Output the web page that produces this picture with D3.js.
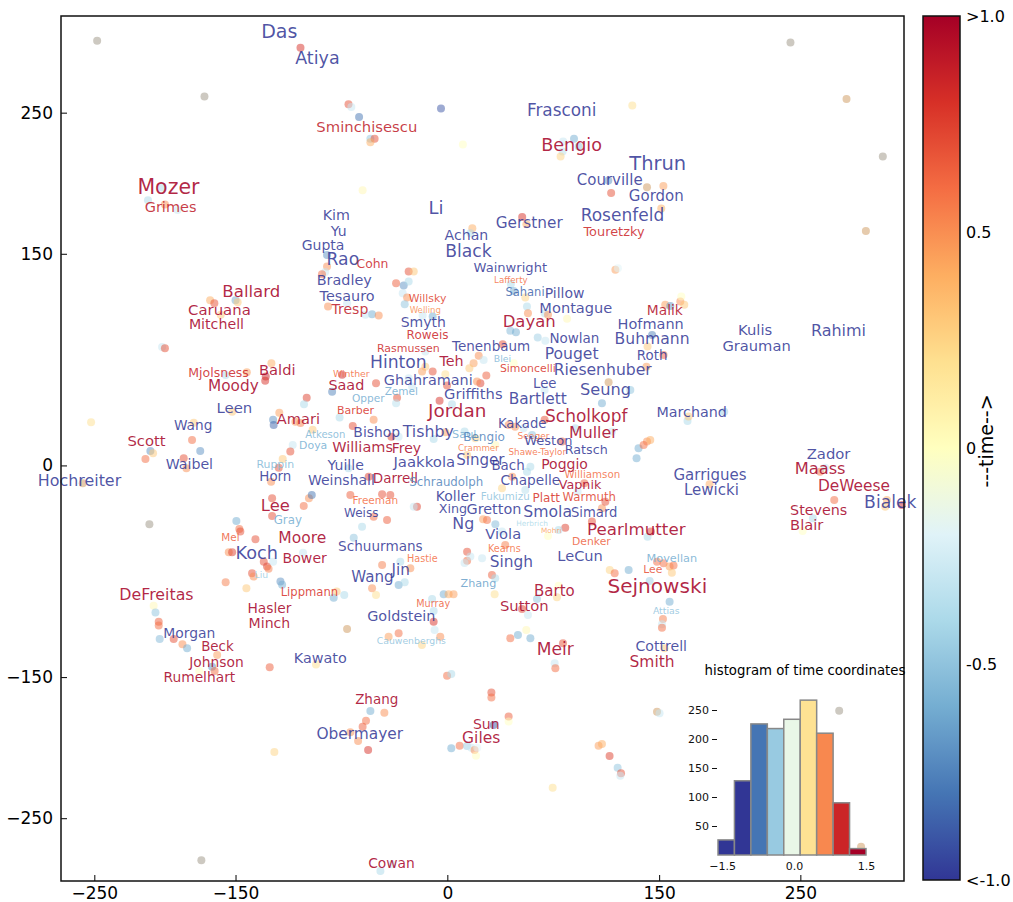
<!DOCTYPE html>
<html>
<head>
<meta charset="utf-8">
<script src="https://cdn.jsdelivr.net/npm/d3@7"></script>
<style>
  body { margin: 0; background: #fff; }
  svg { font-family: "DejaVu Sans", sans-serif; }
</style>
</head>
<body>
<svg id="chart" width="1013" height="902"></svg>
<script>
// author embedding: x, y are map coordinates, t is the time coordinate (-1 old .. 1 recent)
const points = [
  [-104,296,0.8],[-70,256,0.7],[-68,254,-0.3],[-202,197,-0.4],[-212,188,-0.4],[-200,185,0.5],[-191,181,-0.3],
  [-62.5,247,-0.8],[-4.5,253,-0.9],[-54.5,231.5,-0.5],[-51.5,231.5,0.7],[-54.5,229,0.4],[11,227.5,0.0],[-60,195,0.05],
  [82,229.5,-0.3],[89.7,231.5,-0.6],[81.6,222.5,-0.35],[80.2,219,0.25],[93,226,-0.5],[131,255,0.2],
  [114,202,-0.7],[116,193,0.7],[53,176,0.8],[56,171,0.4],[17.7,168,0.4],[16.3,164.6,-0.4],[153,198,0.45],[151.5,182,0.4],
  [-168,117,0.4],[-165,115,0.7],[-150,117,-0.6],[-148.5,115.7,0.3],[-160.5,106.7,0.3],[-202,84,-0.3],[-200,83,0.7],
  [-124.6,72.4,0.4],[-128.6,63,0.85],[-129,60,0.8],[-157,64,-0.4],[-142,66,0.45],[-152.4,38,0.3],
  [-99.6,48,0.75],[-101.5,43.4,-0.4],[-119,37.4,0.45],[-123.4,32.3,-0.7],[-123,28.7,-0.85],[-107.6,31,0.5],[-104,30,0.55],
  [-95.4,25.2,0.3],[-74.5,64.2,0.85],[-81.6,52.3,-0.75],[-76.3,33.9,-0.4],
  [-179.6,30.3,0.3],[-180.8,18,0.6],[-175,10.3,-0.7],[-252.3,30.6,0.2],[-210.3,10.3,-0.7],[-208.4,8.6,0.3],[-109.5,14.5,-0.3],[-111.2,9.8,0.7],
  [-85.2,141,0.5],[-86.5,137,-0.3],[-88.8,135.5,0.6],[-84.5,112.6,0.5],[-71,115,-0.3],[-85.2,149.2,-0.7],
  [-27.4,137.4,0.7],[-23.8,137.4,0.3],[-36.3,129.1,0.65],[-30.9,127.5,-0.7],[-27.4,130.3,-0.4],[-31.6,122,-0.3],[-28.5,119,0.5],
  [-30.2,114.3,-0.5],[-53.3,107.2,-0.6],[-48.6,106.2,0.5],[-58,106.7,-0.3],[-17.5,106.2,-0.3],[-10.4,105.5,-0.6],
  [45,128.5,-0.4],[47,123.7,-0.6],[55.2,119,0.25],[56.4,112.6,-0.4],[57.1,107.9,0.5],[68.9,107.9,-0.35],[71.3,106.7,0.5],
  [84.8,103.9,0.05],[119,138.6,0.45],[120.8,139.8,-0.2],
  [44.6,95.4,-0.55],[48.6,94.4,-0.6],[64,90.6,-0.45],[69.4,88.3,-0.3],[39.2,85.9,0.7],[22.2,77.8,0.5],[18.6,72.4,0.45],
  [15.6,68.9,0.3],[27.6,63.7,0.65],[25.7,74.8,-0.3],[47,72.4,0.0],[23.4,58.3,0.75],[21,59.4,0.5],[-0.2,56.6,0.7],
  [-1.4,64.6,0.2],[-15.6,80.7,-0.3],[-15.6,70,0.3],[-17.9,66.5,0.45],[-10.4,66.5,0.7],[-27.4,61.8,-0.3],[-50.5,58.3,0.7],
  [-25,55.9,-0.3],[-35.6,48,0.7],[-36.3,44,-0.35],[-5.5,45.9,0.8],[3.3,43.4,-0.4],[109.5,44,-0.6],[68.9,53.5,-0.3],
  [-67,28,0.7],[-52.2,32.3,0.5],[-39.6,20.4,0.75],[-34.5,20.4,-0.3],[-9.7,18.8,-0.4],[-1.4,23.5,0.45],[12.2,24,-0.4],
  [19.8,19.3,0.25],[43.4,28.7,0.5],[48,27.5,0.5],[54,26.4,-0.3],[60,21.6,-0.5],[68.9,32.3,0.7],[81.2,16.9,0.7],
  [90.6,26.4,-0.4],[116.6,24,-0.3],[34,14.5,0.05],[14,7.4,0.3],
  [154.3,113.8,0.45],[157.9,113,-0.7],[165,116.1,0.5],[165.7,119.7,0.0],[167.8,113.8,0.3],[145,92.5,-0.75],[141.8,84.2,0.3],
  [153.1,78.3,0.65],[141,70,0.45],[129.6,53.5,-0.5],
  [170.1,31.5,-0.4],[170.8,34.6,0.3],[196.1,38.1,-0.45],[135.4,12.2,-0.6],[141.4,16.9,0.5],[139,14.5,0.6],[143.7,18.1,0.4],
  [-213.8,4.6,0.6],[-186.7,5.1,0.7],[-184.8,-2,0.5],[-119.4,-1.6,0.7],[-124.8,-11.5,0.5],[-116.6,4.6,0.3],[-124.1,-23.2,0.7],
  [-124.1,-35.8,0.7],[-101.7,-28.7,0.6],[-98,-23.2,0.5],[-96,-21,-0.8],[-149.4,-39.3,-0.6],[-147.3,-45,0.6],[-146.6,-46.9,0.7],
  [-135.9,-52.3,0.7],
  [-154.8,-61.5,0.5],[-152.4,-61.5,0.75],[-130,-68.2,0.7],[-127.7,-71.7,0.75],[-126.6,-73.3,0.55],[-123.4,-68.2,-0.3],
  [-102.2,-61.8,-0.3],[-138.3,-76.4,0.7],[-137.2,-78.7,0.5],[-157,-82.8,0.55],[-142.3,-87,0.3],[-118.2,-82.3,-0.7],
  [-117,-84.6,-0.6],[-80.5,-93.7,-0.6],[-73,-91.8,-0.4],[-78.4,-89.4,0.3],
  [-208,-99.4,0.05],[-206.7,-104.3,-0.5],[-204.4,-110.7,0.65],[-204.4,-113.5,0.6],[-203.7,-123,-0.55],[-193.8,-123,0.7],
  [-187.6,-126.7,0.5],[-184.3,-129.6,-0.6],[-163,-134.3,0.45],[-166.6,-142.6,-0.7],[-164.8,-145.7,0.6],[-125.8,-143,0.65],
  [-93,-141,0.2],[-175.7,-145.7,0.0],
  [-70,-2,-0.4],[-55.7,-8,0.75],[-46.2,-20.4,0.7],[-68.7,-20.9,0.65],[-40.4,-20.9,0.7],[-21.5,-29.2,0.75],[-23.8,-29.2,-0.3],
  [-42.7,-38.6,0.65],[-52.2,-36.3,0.6],[-60.4,-43.4,-0.4],[-66.3,-51.2,-0.5],[-46.2,-70.5,0.55],[-33.3,-68.2,-0.4],
  [-26.2,-72.9,0.5],[-34.5,-84.7,-0.6],[-30.2,-82.8,-0.4],[-53.3,-87,0.5],[-50.5,-91.8,0.2],[-10.8,-94.7,-0.4],
  [-2.6,-91.3,-0.6],[0.9,-91.3,0.4],[4.4,-91.3,0.45],[-9.7,-110.7,0.8],[-9.7,-103.2,-0.4],[-9,-116.6,-0.3],[-5,-121.4,0.5],
  [-34.5,-119,0.6],[-41.6,-121.4,0.45],[-18,-127.2,0.25],
  [14,-61.1,0.7],[14,-67.6,0.6],[16.3,-64.6,-0.3],[24.6,-65.8,-0.3],[12.2,-69.2,-0.3],[41,-56.4,0.55],[31.6,-77.6,0.65],
  [33.9,-80,-0.4],[33.5,-91.3,0.2],[25.3,-38.1,0.45],[28.1,-38.6,0.6],[34,-41.7,-0.55],[38.7,-46.9,-0.3],
  [56.4,-4.4,-0.4],[58.8,-0.9,-0.4],[45.9,-8,0.5],[38.7,-16.2,0.25],[55.2,-17.4,-0.35],[83.5,-44.1,0.75],[78.8,-45.7,-0.4],
  [71.3,-50,0.0],[102.4,-39.8,0.7],[109.5,-30.3,0.5],[111.9,-25.7,0.7],[92.3,-18.6,-0.3],[97,-12.6,0.65],[128.4,-74.1,-0.6],
  [115,-74.1,0.25],[118.5,-76.4,0.6],[63.5,-94.7,-0.5],[78.8,-85.2,0.0],[77.6,-93.4,0.25],[52.9,-101.7,0.75],[57.1,-106,-0.3],
  [44.6,-122.5,0.6],[50,-120.1,-0.6],[55.9,-116.6,0.05],[58.8,-122.5,-0.6],[81.9,-126,0.7],[76,-140.2,-0.3],[76.5,-143.7,0.6],
  [-0.2,-149,0.6],[2.8,-147.8,-0.4],
  [134,5.1,-0.6],[185.7,-13.3,0.4],[264,-4.4,0.6],[267.6,-1.6,-0.3],[274,-24.5,0.6],[311.3,-24.5,0.4],[310.1,-29.2,0.3],
  [321.9,-28,0.85],[258.9,-37.4,-0.4],[251.6,-46.4,0.0],[141.8,-50.5,-0.4],[144.2,-46.9,0.75],[148.5,-68.2,0.6],
  [153.1,-69.4,0.6],[157.4,-71.7,0.45],[160.2,-71,0.6],[159,-76,0.3],[143.3,-81.9,-0.45],[157.4,-96.6,-0.6],
  [152.7,-108.8,0.55],[152,-112.5,-0.3],[152,-115,0.6],[153.8,-129.6,0.3],
  [-54.5,-174,-0.6],[-44.6,-175.2,0.5],[-57.6,-180.9,0.6],[-60,-185.1,0.65],[-63.2,-195.3,0.5],[-56.1,-201.6,0.8],
  [-68.7,-189,0.5],[31.2,-161,0.7],[31.2,-164.5,0.6],[43.4,-178,0.65],[43.4,-181.5,0.0],[32.8,-184,-0.9],[2.8,-200.4,-0.6],
  [8.7,-198.6,0.6],[13.9,-198.8,-0.45],[17,-200,-0.3],[19.3,-201.6,0.5],[21.2,-200,-0.2],[20.3,-205.7,0.0],
  [107.1,-198.6,0.45],[109.5,-197.4,0.4],[114.9,-205.9,0.75],[120.6,-214.2,-0.5],[123,-218.2,0.7],[122.5,-219.9,-0.3],
  [74.6,-228.4,0.2],[-47.4,-287.4,-0.4],[-39.2,-282.6,-0.3],[-122.5,-203,0.25],[150.3,-175.6,-0.3]
];

// faded outliers
const tanPoints = [[282.7,259.6],[296.4,166.2],[141.4,197.2],[-258.2,-12.6],[148.5,-174.5],[293,-270.2],[114.2,59],[-71,-116]];
const grayPoints = [[-248,301],[-172,261.5],[243,299.7],[308.4,218.9],[-211,-41.7],[-174.2,-279.8],[277.5,-173.8]];

// [name, x, y, time, weight]
const labels = [
  ["Das",-119,308,-1,19],["Atiya",-92,289,-1,17.5],["Sminchisescu",-57,240,0.9,14.8],["Mozer",-197.5,197,1,20.5],
  ["Grimes",-196,183,0.9,14.5],["Frasconi",81,252,-1,16.9],["Bengio",88,227,1,17.6],["Thrun",149,214,-1,19.5],
  ["Courville",115,202,-1,15],["Gordon",148,191,-1,15],["Rosenfeld",124,177.5,-1,17],["Touretzky",118,166,0.85,12.9],
  ["Gerstner",58,172,-1,15.3],["Li",-8,183,-1,18],["Kim",-78.6,177.5,-1,14.3],["Yu",-77,166,-1,14],["Gupta",-88,156,-1,14],
  ["Rao",-74,146,-1,17.2],["Cohn",-53,143,0.85,12.4],["Achan",13.5,163,-1,14.1],["Black",15,152,-1,17.2],
  ["Bradley",-73,131.5,-1,14.4],["Tesauro",-71,120,-1,14.4],["Tresp",-69,111,0.9,14],["Wainwright",44.6,140,-1,13.1],
  ["Lafferty",45,131.5,0.6,8.7],["Sahani",55,123,-0.85,11.5],["Pillow",83,122,-1,14],["Montague",91,112,-1,14.6],
  ["Willsky",-14,118,0.75,10.9],["Welling",-15.6,110,0.5,8.6],["Smyth",-17,101.7,-1,14],["Dayan",58,101.7,1,16.5],
  ["Malik",154,110,0.95,13.8],["Hofmann",144,100,-1,14.5],["Buhmann",145,89.6,-1,15.6],["Roth",145,78,-1,13.4],
  ["Kulis",218,96,-1,14.8],["Grauman",219,84.7,-1,14.7],["Rahimi",277,95.3,-1,16],["Roweis",-14,92.5,0.85,12],
  ["Rasmussen",-27.6,83,0.85,11],["Tenenbaum",31,84.7,-1,13.5],["Nowlan",90,90,-1,13.5],["Pouget",88,79,-1,15.6],
  ["Hinton",-34.7,73,-1,17.2],["Teh",3,74,1,14.3],["Blei",39,76,-0.55,9.3],["Simoncelli",57,68.4,0.8,10.9],
  ["Riesenhuber",110,67.7,-1,15.6],["Ghahramani",-13.5,60.6,-1,14.4],["Lee",69,57.8,-1,13.3],["Seung",112,54,-1,16.2],
  ["Zemel",-32.6,52.8,-0.6,10.5],["Opper",-56,47.8,-0.6,10.6],["Griffiths",18.4,50.7,-1,14.7],["Bartlett",64,47,-1,15.4],
  ["Jordan",7,38.6,1,18.4],["Scholkopf",98.4,35,1,17],["Marchand",173,38,-1,14.3],["Kakade",53,29.4,-1,13.2],
  ["Muller",103.4,23,1,15.8],["Bishop",-50,23.7,-1,13.9],["Tishby",-13.5,23.7,-1,15.8],["Saul",12,21.6,-0.6,11.3],
  ["Bengio",26,20,-0.75,12.1],["Seeger",61,21,0.6,9.1],["Weston",71.5,18,-1,13],["Crammer",22,12.4,0.55,8.7],
  ["Shawe-Taylor",63.7,9.6,0.6,8.8],["Ratsch",98.4,11,-1,12.7],["Williams",-60,13,1,14.5],["Frey",-29,12.4,1,14],
  ["Jaakkola",-16.3,2.5,-1,14.9],["Singer",23.4,4,-1,15.1],["Bach",43,-0.3,-1,13.4],["Poggio",83,1,1,14],
  ["Williamson",102.7,-6,0.6,10.3],["Chapelle",58.8,-10.3,-1,13.7],["Vapnik",94,-13.8,1,12.7],["Darrell",-36.8,-8.9,1,13.5],
  ["Schraudolph",-0.7,-11.7,-0.75,11.8],["Koller",5.7,-21.6,-1,14],["Fukumizu",41,-21.6,-0.5,10.3],["Platt",70,-23,0.8,12],
  ["Warmuth",100.5,-22.3,0.75,11.7],["Xing",4,-30.8,-1,12.7],["Gretton",33,-30.8,-1,14.4],["Smola",71,-33,-1,15.7],
  ["Simard",104,-33.7,-1,13.2],["Ng",11.3,-41.5,-1,15.9],["Herbrich",60,-40.8,-0.4,7.4],["Mohri",73.6,-46.4,0.45,7.3],
  ["Viola",39.6,-48.5,-1,14.7],["Pearlmutter",133.8,-45,1,16.7],["Kearns",40.4,-59,0.6,9.7],["Denker",102,-54,0.65,10.8],
  ["Singh",45.3,-68.4,-1,15.4],["LeCun",94,-64,-1,14.6],["Hastie",-17.7,-65.6,0.6,9.7],["Schuurmans",-47.4,-57,-1,13.6],
  ["Jin",-33,-74,-1,15.2],["Wang",-53,-79,-1,15.1],["Zhang",22,-84,-0.65,11.2],["Movellan",159,-66,-0.6,11.3],
  ["Lee",145.5,-74,0.7,10.8],["Sejnowski",148.7,-85.4,1,20.1],["Barto",75.8,-88.9,1,15],["Sutton",54.5,-99.5,1,14.8],
  ["Attias",155,-103,-0.5,9.3],["Murray",-10,-98,0.65,9.7],["Goldstein",-32.6,-107,-1,14.4],
  ["Cauwenberghs",-25.5,-124,-0.5,9.3],["Meir",76.5,-130,1,17.1],["Cottrell",151.5,-128,-1,14.1],["Smith",145,-139,1,15.5],
  ["Zhang",-50,-165.5,1,13.5],["Obermayer",-62,-190,-1,15.4],["Sun",27.6,-183,1,14],["Giles",24,-193,1,15.5],
  ["Cowan",-39.6,-281.7,1,13.8],["Garrigues",186,-6.7,-1,15],["Lewicki",187,-17.4,-1,15],["Zador",270,8.8,-1,14.8],
  ["Maass",264,-2.5,1,16.3],["DeWeese",288,-14.5,1,15.4],["Bialek",313.7,-26,-1,17.2],["Stevens",263,-31.5,1,14.3],
  ["Blair",254.5,-42,1,14.7],["Ballard",-138.8,123,1,16.6],["Caruana",-161.4,110,1,14.9],["Mitchell",-163.5,100,1,14.2],
  ["Mjolsness",-162,66,0.85,12.5],["Baldi",-120.4,67.7,1,14.7],["Moody",-151.5,56.4,1,15.3],["Winther",-68,65,0.6,9.4],
  ["Saad",-71.5,57,1,14.4],["Leen",-150.8,40.7,-1,14.9],["Amari",-105.5,33,1,14.6],["Barber",-65,38.6,0.8,11],
  ["Wang",-180,28.7,-1,13.7],["Scott",-213,18,1,14.8],["Atkeson",-86.4,21.6,-0.55,10.1],["Doya",-95,13.8,-0.6,10.9],
  ["Waibel",-182.7,1,-1,14.2],["Ruppin",-121.8,1,-0.55,10.9],["Horn",-121.8,-8,-1,13.4],["Yuille",-72,0.3,-1,14.1],
  ["Weinshall",-75,-10.3,-1,14],["Hochreiter",-260.5,-11,-1,15.9],["Lee",-121.8,-28.7,1,16.4],["Gray",-113,-39,-0.6,11.8],
  ["Weiss",-61,-33.7,-1,12],["Freeman",-51,-24.4,0.6,10.5],["Mel",-153.6,-50.7,0.65,10.4],["Moore",-102.7,-51.4,1,15.5],
  ["Koch",-135,-62,-1,17.7],["Bower",-101,-65.6,1,14.1],["Liu",-131.7,-77.5,-0.45,9.3],["DeFreitas",-206,-91.8,1,15.8],
  ["Lippmann",-97.7,-89.6,0.8,11.6],["Hasler",-126,-101,1,13.8],["Minch",-126,-111.6,1,14.1],["Morgan",-182.7,-118.7,-1,13.9],
  ["Beck",-162.8,-128.6,1,13.4],["Johnson",-163.5,-139,1,13.8],["Rumelhart",-175.6,-150,1,13.8],["Kawato",-90,-136.4,-1,14.4]
];

const xTicks = [-250, -150, 0, 150, 250];
const yTicks = [-250, -150, 0, 150, 250];
const colorbarTicks = [">1.0", "0.5", "0", "-0.5", "<-1.0"];

// histogram of time coordinates
const histCounts = [26, 128, 226, 218, 234, 267, 210, 90, 11];
const histRange = [-1.585, 1.5];
const histXTicks = [-1.5, 0, 1.5];
const histYTicks = [50, 100, 150, 200, 250];

const svg = d3.select('#chart');

const plot = { left: 61, right: 904, top: 16, bottom: 881 };
const x = d3.scaleLinear().domain([-273.6, 323.4]).range([plot.left, plot.right]);
const y = d3.scaleLinear().domain([-294.5, 318.5]).range([plot.bottom, plot.top]);
const fontSize = d3.scaleLinear().domain([7, 20]).range([7, 20]);

// matplotlib-like RdYlBu_r, piecewise linear
const rdylbu = ["#313695","#4575b4","#74add1","#abd9e9","#e0f3f8","#ffffbf","#fee090","#fdae61","#f46d43","#d73027","#a50026"];
const cmap = d3.scaleLinear().domain(d3.range(11).map(i => i / 10)).range(rdylbu)
  .interpolate(d3.interpolateRgb).clamp(true);
const timeColor = t => cmap((t + 1) / 2);

const main = svg.append('g');

// dots
main.selectAll('.gray').data(grayPoints).join('circle')
  .attr('cx', d => x(d[0])).attr('cy', d => y(d[1])).attr('r', 4)
  .attr('fill', '#cdc9c1');
main.selectAll('.tan').data(tanPoints).join('circle')
  .attr('cx', d => x(d[0])).attr('cy', d => y(d[1])).attr('r', 4)
  .attr('fill', '#e6cbad');
main.selectAll('.pt').data(points).join('circle')
  .attr('cx', d => x(d[0])).attr('cy', d => y(d[1])).attr('r', 4)
  .attr('fill', d => timeColor(d[2]))
  .attr('fill-opacity', 0.5);

// name labels
main.selectAll('.name').data(labels).join('text')
  .attr('x', d => x(d[1])).attr('y', d => y(d[2]))
  .attr('text-anchor', 'middle')
  .attr('dominant-baseline', 'central')
  .attr('font-size', d => fontSize(d[4]) + 'px')
  .attr('fill', d => timeColor(d[3]))
  .attr('fill-opacity', 0.85)
  .text(d => d[0]);

// axes
const xAxis = svg.append('g')
  .attr('transform', `translate(0,${plot.bottom})`)
  .call(d3.axisBottom(x).tickValues(xTicks).tickSize(-6).tickPadding(6));
const yAxis = svg.append('g')
  .attr('transform', `translate(${plot.left},0)`)
  .call(d3.axisLeft(y).tickValues(yTicks).tickSize(-6).tickPadding(8));
[xAxis, yAxis].forEach(a => {
  a.select('.domain').remove();
  a.selectAll('text').attr('font-size', '17px').attr('fill', '#000').attr('font-family', '"DejaVu Sans", sans-serif');
  a.selectAll('line').attr('stroke', '#000').attr('stroke-width', 1);
});

svg.append('rect')
  .attr('x', plot.left).attr('y', plot.top)
  .attr('width', plot.right - plot.left).attr('height', plot.bottom - plot.top)
  .attr('fill', 'none').attr('stroke', '#111').attr('stroke-width', 1.5);

// colorbar
const cb = { x: 923, w: 37, top: 16, bottom: 880 };
const grad = svg.append('defs').append('linearGradient')
  .attr('id', 'cbgrad').attr('x1', 0).attr('y1', 1).attr('x2', 0).attr('y2', 0);
d3.range(0, 1.0001, 0.05).forEach(s => {
  grad.append('stop').attr('offset', s).attr('stop-color', cmap(s));
});
svg.append('rect')
  .attr('x', cb.x).attr('y', cb.top).attr('width', cb.w).attr('height', cb.bottom - cb.top)
  .attr('fill', 'url(#cbgrad)').attr('stroke', '#111').attr('stroke-width', 1.5);
const cbY = d3.scaleLinear().domain([0, colorbarTicks.length - 1]).range([cb.top, cb.bottom]);
svg.selectAll('.cbtick').data(colorbarTicks).join('text')
  .attr('x', cb.x + cb.w + 6).attr('y', (d, i) => cbY(i))
  .attr('dominant-baseline', 'central')
  .attr('font-size', '16px').attr('fill', '#000')
  .text(d => d);
svg.append('text')
  .attr('transform', `translate(986,441) rotate(-90)`)
  .attr('text-anchor', 'middle').attr('dominant-baseline', 'central')
  .attr('font-size', '19px').attr('fill', '#000')
  .text('---time-->');

// inset histogram
const hx = d3.scaleLinear().domain(histRange).range([718, 866]);
const hy = d3.scaleLinear().domain([0, 280]).range([855, 692.6]);
const binW = (histRange[1] - histRange[0]) / histCounts.length;
const bins = histCounts.map((c, i) => ({ x0: histRange[0] + i * binW, x1: histRange[0] + (i + 1) * binW, count: c }));
const histColor = v => cmap(0.45 + 0.48 * v);

const hist = svg.append('g');
hist.selectAll('rect').data(bins).join('rect')
  .attr('x', d => hx(d.x0)).attr('y', d => hy(d.count))
  .attr('width', d => hx(d.x1) - hx(d.x0)).attr('height', d => hy(0) - hy(d.count))
  .attr('fill', d => histColor((d.x0 + d.x1) / 2))
  .attr('stroke', '#888').attr('stroke-width', 1.5);

const hyAxis = hist.append('g').attr('transform', 'translate(717,0)')
  .call(d3.axisLeft(hy).tickValues(histYTicks).tickSize(5).tickPadding(3));
const hxAxis = hist.append('g').attr('transform', 'translate(0,855)')
  .call(d3.axisBottom(hx).tickValues(histXTicks).tickFormat(d3.format('.1f')).tickSize(0).tickPadding(7));
[hyAxis, hxAxis].forEach(a => {
  a.select('.domain').remove();
  a.selectAll('text').attr('font-size', '11px').attr('fill', '#111').attr('font-family', '"DejaVu Sans", sans-serif');
  a.selectAll('line').attr('stroke', '#111');
});
hist.append('text')
  .attr('x', 805).attr('y', 670)
  .attr('text-anchor', 'middle').attr('dominant-baseline', 'central')
  .attr('font-size', '13.3px').attr('fill', '#000')
  .text('histogram of time coordinates');
</script>
</body>
</html>
